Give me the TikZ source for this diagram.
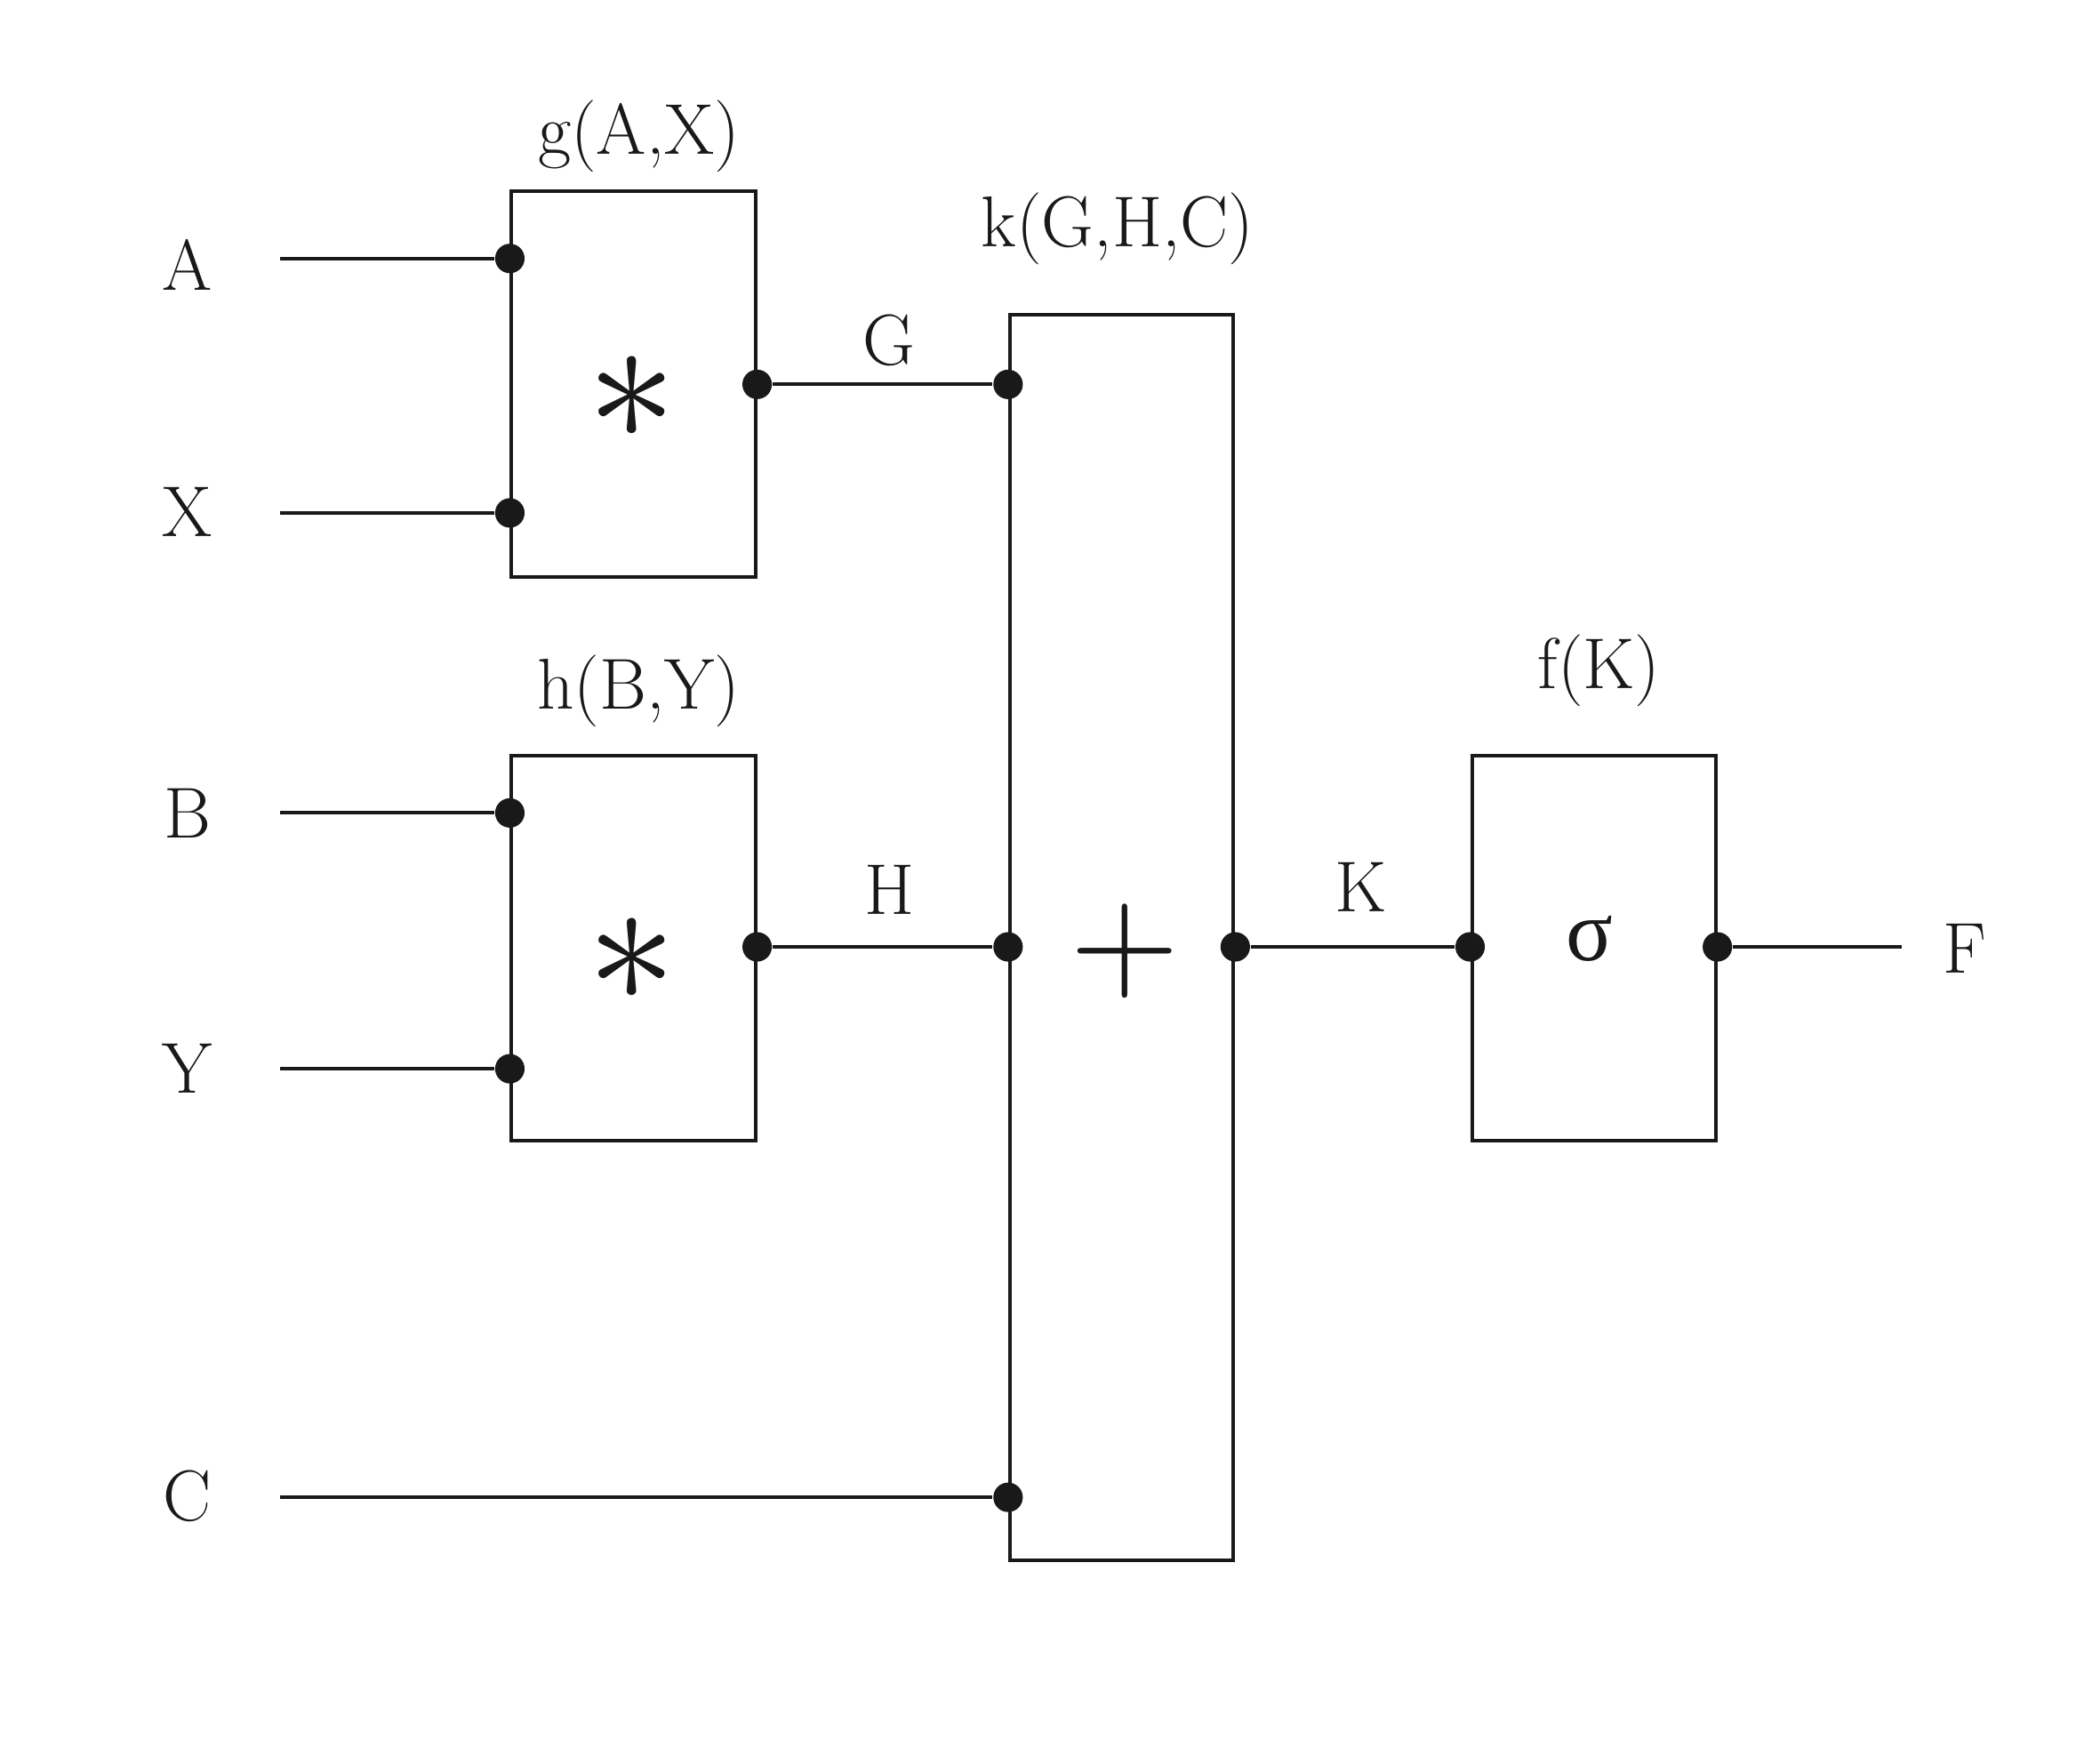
\documentclass[tikz,border=0pt]{standalone}
\usepackage{fontspec}
\newfontfamily\opfont{lmroman10-regular.otf}
\newfontfamily\sigmafont{Liberation Serif}
\usetikzlibrary{positioning}
\tikzset{
  blk/.style={draw=black!90, line width=0.75pt, minimum width=18.2mm, minimum height=28.8mm, inner sep=0pt},
  port/.style={circle, fill=black!90, inner sep=0pt, minimum size=2.2mm},
  wire/.style={draw=black!90, line width=0.75pt},
  sig/.style={font=\fontsize{15.3}{18}\selectfont, inner sep=0pt, text=black!90},
  fname/.style={sig},
  op/.style={inner sep=0pt, text=black!90}
}
\begin{document}
\begin{tikzpicture}
\useasboundingbox (0,0) rectangle (15.68,12.98);
\node[blk] (g) at (4.73,10.11) {};
\node[blk] (h) at (4.73,5.90) {};
\node[blk, minimum width=16.7mm, minimum height=93mm] (k) at (8.375,5.98) {};
\node[blk] (f) at (11.90,5.90) {};
\node[fname] (gt) at ([xshift=0.4mm, yshift=4mm]g.north) {g(A,X)};
\node[fname] (ht) at ([xshift=0.4mm, yshift=4.7mm]h.north) {h(B,Y)};
\node[fname] (kt) at ([xshift=-0.3mm, yshift=6.3mm]k.north) {k(G,H,C)};
\node[fname] (ft) at ([xshift=0.4mm, yshift=6.2mm]f.north) {f(K)};
\node[op] (gop) at (4.72,10.01) {\scalebox{3.8}{$\ast$}};
\node[op] (hop) at (4.72,5.81) {\scalebox{3.8}{$\ast$}};
\node[op, font=\opfont\fontsize{30}{34}\selectfont] (kop) at (8.40,5.88) {+};
\node[op, font=\sigmafont\fontsize{18.5}{22}\selectfont] (fop) at (11.87,5.97) {σ};
\node[sig] (lA) at (1.40,11.00) {A};
\node[sig] (lX) at (1.40,9.16) {X};
\node[sig] (lB) at (1.40,6.91) {B};
\node[sig] (lY) at (1.40,5.00) {Y};
\node[sig] (lC) at (1.40,1.81) {C};
\node[sig] (lF) at (14.67,5.90) {F};
\coordinate (inA) at (2.09,11.05); \coordinate (inX) at (2.09,9.15);
\coordinate (inB) at (2.09,6.91); \coordinate (inY) at (2.09,5.00);
\coordinate (inC) at (2.09,1.80); \coordinate (outF) at (14.20,5.91);
\node[port] (gA) at (g.west |- inA) {}; \node[port] (gX) at (g.west |- inX) {};
\node[port] (hB) at (h.west |- inB) {}; \node[port] (hY) at (h.west |- inY) {};
\node[port] (gG) at (g.east) {}; \node[port] (hH) at (h.east |- outF) {};
\node[port] (kG) at (k.west |- gG) {}; \node[port] (kH) at (k.west |- outF) {};
\node[port] (kC) at (k.west |- inC) {}; \node[port] (kK) at (k.east |- outF) {};
\node[port] (fK) at (f.west |- outF) {}; \node[port] (fF) at (f.east |- outF) {};
\draw[wire] (inA) -- (gA); \draw[wire] (inX) -- (gX);
\draw[wire] (inB) -- (hB); \draw[wire] (inY) -- (hY);
\draw[wire] (inC) -- (kC);
\draw[wire] (gG) -- node[sig, above=1.2mm, xshift=0.5mm] (lG) {G} (kG);
\draw[wire] (hH) -- node[sig, above=2.3mm, xshift=0.5mm] (lH) {H} (kH);
\draw[wire] (kK) -- node[sig, above=2.5mm, xshift=0.6mm] (lK) {K} (fK);
\draw[wire] (fF) -- (outF);
\end{tikzpicture}
\end{document}
